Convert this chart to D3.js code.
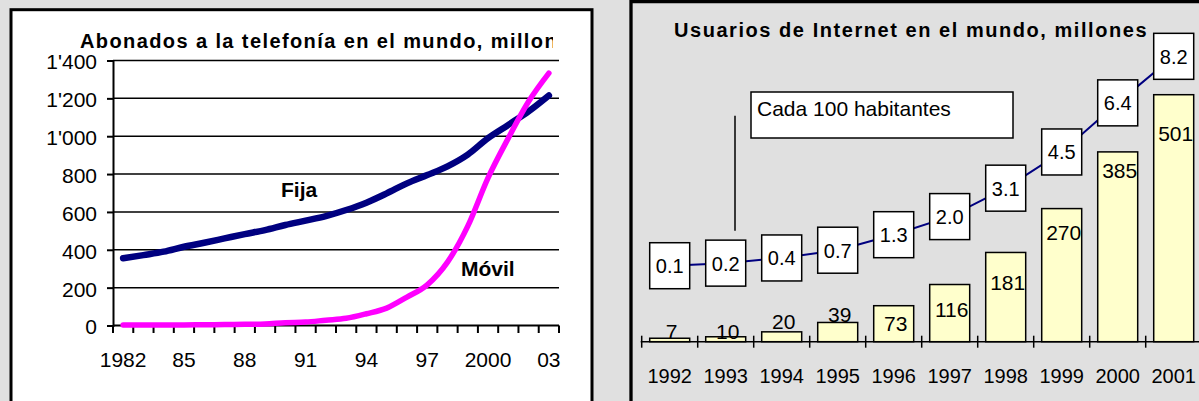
<!DOCTYPE html>
<html>
<head>
<meta charset="utf-8">
<script src="https://cdn.jsdelivr.net/npm/d3@7"></script>
<style>
  body { margin: 0; background: #e0e0e0; }
  svg { display: block; font-family: Arial, "Liberation Sans", sans-serif; }
</style>
</head>
<body>
<svg id="chart" width="1199" height="401"></svg>
<script>
// ---- data: telephone subscribers (millions) ----
var phoneYears = d3.range(1982, 2004);
var fija = [355, 372, 390, 416, 437, 460, 483, 504, 531, 554, 578, 610, 649, 698, 751, 795, 841, 903, 990, 1060, 1131, 1215];
var movil = [2, 2, 3, 3, 4, 5, 6, 8, 15, 18, 28, 38, 62, 92, 150, 215, 335, 525, 780, 990, 1183, 1333];
var phoneTickYears = [1982, 1985, 1988, 1991, 1994, 1997, 2000, 2003];
var phoneTickLabels = ["1982", "85", "88", "91", "94", "97", "2000", "03"];
var phoneYTicks = [0, 200, 400, 600, 800, 1000, 1200, 1400];

// ---- data: internet users ----
var netYears = ["1992", "1993", "1994", "1995", "1996", "1997", "1998", "1999", "2000", "2001"];
var netUsers = [7, 10, 20, 39, 73, 116, 181, 270, 385, 501];
var netPer100 = ["0.1", "0.2", "0.4", "0.7", "1.3", "2.0", "3.1", "4.5", "6.4", "8.2"];

// label placement tweaks (baseline offset from bar top)
var barLabelShift = [0.5, 2.5, -2.5, 0, 25, 32, 38, 31, 26, 46];

var svg = d3.select("#chart");
var fmt = d3.formatLocale({ decimal: ".", thousands: "'", grouping: [3], currency: ["", ""] }).format(",");

// ================= left panel =================
svg.append("rect")
  .attr("x", 11).attr("y", 9.7)
  .attr("width", 581).attr("height", 500)
  .attr("fill", "#fff").attr("stroke", "#000").attr("stroke-width", 3);

svg.append("clipPath").attr("id", "titleclip")
  .append("rect").attr("x", 13).attr("y", 12).attr("width", 540).attr("height", 45);

svg.append("text")
  .attr("clip-path", "url(#titleclip)")
  .attr("x", 80).attr("y", 47.5)
  .attr("font-size", 20).attr("font-weight", "bold")
  .attr("letter-spacing", 1.4)
  .text("Abonados a la telefonía en el mundo, millones");

var x1 = d3.scaleBand().domain(phoneYears).range([113, 559]).padding(0);
var y1 = d3.scaleLinear().domain([0, 1400]).range([325.5, 60.5]);

// gridlines
svg.append("g").selectAll("line")
  .data(phoneYTicks.slice(1))
  .join("line")
  .attr("x1", 113).attr("x2", 559)
  .attr("y1", d => y1(d)).attr("y2", d => y1(d))
  .attr("stroke", "#000").attr("stroke-width", 1.5);

// y axis
var yAxis = svg.append("g")
  .attr("transform", "translate(113,0)")
  .call(d3.axisLeft(y1).tickValues(phoneYTicks).tickFormat(fmt).tickSize(6).tickPadding(10));
yAxis.select(".domain").attr("stroke-width", 2);
yAxis.selectAll(".tick line").attr("stroke-width", 2);
yAxis.selectAll("text").attr("font-size", 21).attr("fill", "#000")
  .attr("font-family", "Arial, 'Liberation Sans', sans-serif").attr("dy", "0.4em");

// x axis with ticks between categories
var xg = svg.append("g");
xg.append("line")
  .attr("x1", 113).attr("x2", 559)
  .attr("y1", y1(0)).attr("y2", y1(0))
  .attr("stroke", "#000").attr("stroke-width", 2);
var bounds = phoneYears.map(d => x1(d)).concat([x1.range()[1]]);
xg.selectAll(".tk").data(bounds).join("line")
  .attr("x1", d => d).attr("x2", d => d)
  .attr("y1", y1(0)).attr("y2", y1(0) + 7.5)
  .attr("stroke", "#000").attr("stroke-width", 2);
xg.selectAll("text").data(phoneTickYears).join("text")
  .attr("x", d => x1(d) + x1.bandwidth() / 2)
  .attr("y", 366.7)
  .attr("text-anchor", "middle")
  .attr("font-size", 21)
  .text((d, i) => phoneTickLabels[i]);

var line1 = d3.line()
  .x((d, i) => x1(phoneYears[i]) + x1.bandwidth() / 2)
  .y(d => y1(d))
  .curve(d3.curveMonotoneX);

svg.append("path").datum(fija)
  .attr("d", line1).attr("fill", "none")
  .attr("stroke", "#000080").attr("stroke-width", 6.5)
  .attr("stroke-linecap", "round").attr("stroke-linejoin", "round");

svg.append("path").datum(movil)
  .attr("d", line1).attr("fill", "none")
  .attr("stroke", "#ff00ff").attr("stroke-width", 5.5)
  .attr("stroke-linecap", "round").attr("stroke-linejoin", "round");

svg.append("text").attr("x", 281).attr("y", 197)
  .attr("font-size", 21).attr("font-weight", "bold").text("Fija");
svg.append("text").attr("x", 461).attr("y", 275.7)
  .attr("font-size", 21).attr("font-weight", "bold").text("Móvil");

// ================= right panel =================
svg.append("rect")
  .attr("x", 631).attr("y", 1.6)
  .attr("width", 700).attr("height", 500)
  .attr("fill", "#e0e0e0").attr("stroke", "#000").attr("stroke-width", 3.3);

svg.append("text")
  .attr("x", 674).attr("y", 37.3)
  .attr("font-size", 20).attr("font-weight", "bold")
  .attr("letter-spacing", 1.55)
  .text("Usuarios de Internet en el mundo, millones");

var x2 = d3.scaleBand().domain(netYears).range([641.7, 1201.7])
  .paddingInner(0.286).paddingOuter(0.143);
var step2 = x2.step();
var y2 = d3.scaleLinear().domain([0, 600]).range([341.7, 341.7 - 600 * 0.493]);
var y3 = d3.scaleLinear().domain([0, 10]).range([268.3, 9.8]);

// bars
svg.append("g").selectAll("rect")
  .data(netUsers)
  .join("rect")
  .attr("x", (d, i) => x2(netYears[i]))
  .attr("y", d => y2(d))
  .attr("width", x2.bandwidth())
  .attr("height", d => y2(0) - y2(d))
  .attr("fill", "#ffffcc").attr("stroke", "#000").attr("stroke-width", 1.5);

svg.append("g").selectAll("text")
  .data(netUsers)
  .join("text")
  .attr("x", (d, i) => x2(netYears[i]) + x2.bandwidth() / 2 + 2)
  .attr("y", (d, i) => y2(d) + barLabelShift[i])
  .attr("text-anchor", "middle")
  .attr("font-size", 21)
  .text(d => d);

// category axis
var ax2 = svg.append("g");
ax2.append("line")
  .attr("x1", 640.7).attr("x2", 1199)
  .attr("y1", y2(0)).attr("y2", y2(0))
  .attr("stroke", "#000").attr("stroke-width", 1.5);
var bounds2 = netYears.map(d => x2(d) - step2 * x2.paddingOuter());
ax2.selectAll(".tk").data(bounds2).join("line")
  .attr("x1", d => d).attr("x2", d => d)
  .attr("y1", y2(0) - 6).attr("y2", y2(0) + 6)
  .attr("stroke", "#000").attr("stroke-width", 1.5);
ax2.selectAll("text").data(netYears).join("text")
  .attr("x", d => x2(d) + x2.bandwidth() / 2)
  .attr("y", 382.7)
  .attr("text-anchor", "middle")
  .attr("font-size", 20)
  .text(d => d);

// per 100 inhabitants line with boxed labels
var line2 = d3.line()
  .x((d, i) => x2(netYears[i]) + x2.bandwidth() / 2)
  .y(d => y3(+d));
svg.append("path").datum(netPer100)
  .attr("d", line2).attr("fill", "none")
  .attr("stroke", "#000080").attr("stroke-width", 2);

var boxes = svg.append("g").selectAll("g")
  .data(netPer100)
  .join("g")
  .attr("transform", (d, i) => "translate(" + (x2(netYears[i]) + x2.bandwidth() / 2) + "," + y3(+d) + ")");
boxes.append("rect")
  .attr("x", -20).attr("y", -23).attr("width", 40).attr("height", 46)
  .attr("fill", "#fff").attr("stroke", "#000").attr("stroke-width", 1.5);
boxes.append("text")
  .attr("text-anchor", "middle").attr("y", 7.5)
  .attr("font-size", 20)
  .text(d => d);

// legend box and leader line
svg.append("line")
  .attr("x1", 735).attr("x2", 735).attr("y1", 115.7).attr("y2", 230.7)
  .attr("stroke", "#000").attr("stroke-width", 1.5);
svg.append("rect")
  .attr("x", 751).attr("y", 92).attr("width", 262).attr("height", 46)
  .attr("fill", "#fff").attr("stroke", "#000").attr("stroke-width", 1.5);
svg.append("text")
  .attr("x", 757).attr("y", 116)
  .attr("font-size", 21)
  .text("Cada 100 habitantes");
</script>
</body>
</html>
